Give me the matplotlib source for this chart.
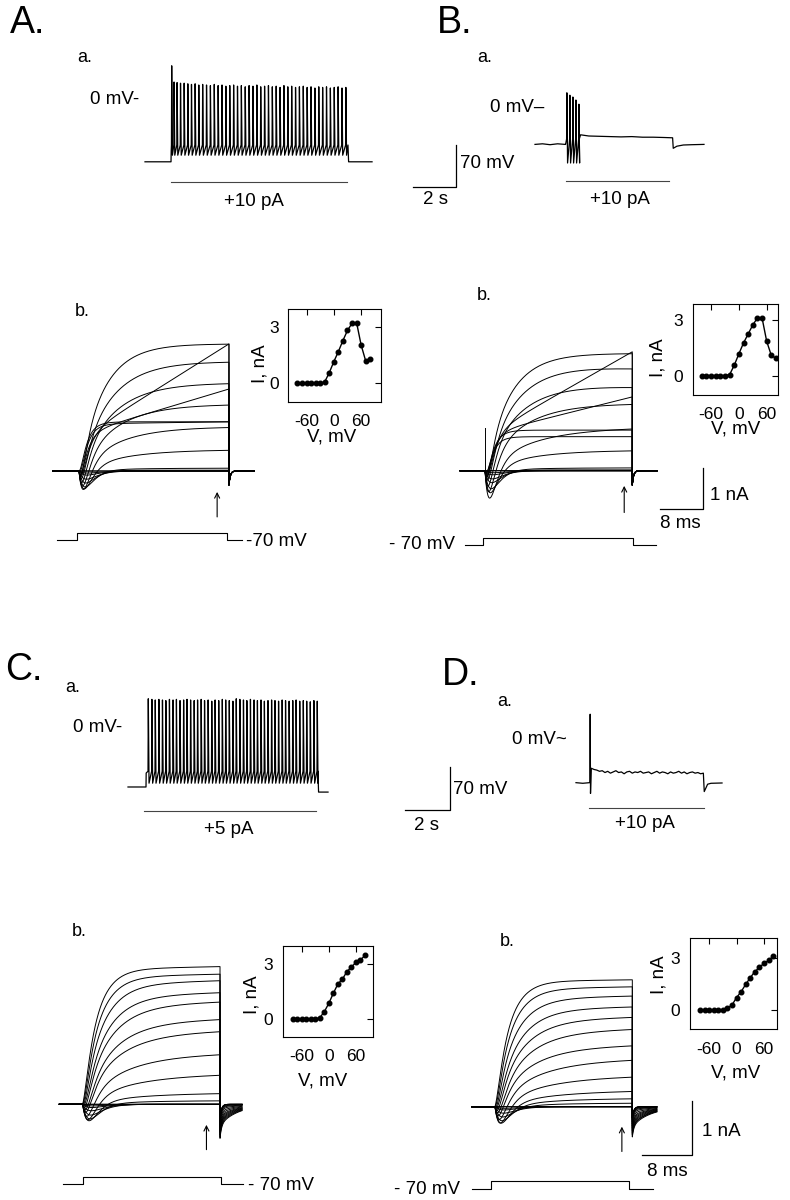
import numpy as np
import matplotlib.pyplot as plt

plt.rcParams['font.family'] = ['Liberation Sans', 'DejaVu Sans']
plt.rcParams['axes.unicode_minus'] = False

W, H = 790, 1200

# ---------------- values ----------------
# I-V insets: step potential (mV) vs current at the arrow (nA)
step_mV = [-80, -70, -60, -50, -40, -30, -20, -10, 0, 10, 20, 30, 40, 50, 60, 70, 80]
iv_A = [0, 0, 0, 0, 0, 0, 0.08, 0.57, 1.16, 1.70, 2.29, 2.83, 3.21, 3.25, 2.05, 1.20, 1.29]
iv_B = [0, 0, 0, 0, 0, 0, 0.05, 0.56, 1.18, 1.77, 2.26, 2.75, 3.13, 3.13, 1.86, 1.09, 0.94]
iv_C = [0, 0, 0, 0, 0, 0, 0.07, 0.40, 0.86, 1.41, 1.92, 2.18, 2.60, 2.84, 3.11, 3.24, 3.48]
iv_D = [0, 0, 0, 0, 0, 0, 0.10, 0.29, 0.71, 1.05, 1.47, 1.85, 2.20, 2.43, 2.68, 2.83, 3.06]

# whole-cell current families, one entry per step (nA, ms)
plat_A = [0, 0, 0, 0, 0, 0.02, 0.07, 0.52, 1.08, 1.63, 2.15, 2.67, 3.10, 0.80, 0.90, 1.15, 1.20]
tau_A = [2, 2, 2, 2, 2, 3, 8, 8, 7, 6.5, 6, 5.5, 4.5, 1.8, 1.6, 1.5, 1.4]
ramp_A = [0, 0, 0, 0, 0, 0, 0, 0, 0, 0, 0, 0, 0, 2.30, 1.10, 0.05, 0]
dip_A = [0, 0, 0.05, 0.10, 0.20, 0.30, 0.40, 0.50, 0.58, 0.55, 0.50, 0.45, 0.40, 0.35, 0.30, 0.25, 0.20]

plat_B = [0, 0, 0, 0, 0, 0.02, 0.07, 0.50, 1.00, 1.64, 2.17, 2.63, 2.86, 0.85, 0.90, 0.99, 0.83]
tau_B = [2, 2, 2, 2, 2, 3, 8, 8, 8, 6.5, 6, 5.5, 4.5, 1.8, 1.6, 1.5, 1.4]
ramp_B = [0, 0, 0, 0, 0, 0, 0, 0, 0.05, 0, -0.12, -0.13, 0, 2.05, 0.90, 0, 0]
dip_B = [0, 0, 0.05, 0.10, 0.20, 0.30, 0.45, 0.60, 0.78, 0.70, 0.60, 0.50, 0.45, 0.40, 0.35, 0.30, 0.25]

plat_C = [0, 0, 0, 0, 0, 0, 0.07, 0.20, 0.52, 0.88, 1.28, 1.50, 1.82, 2.00, 2.22, 2.36, 2.50]
tau_C = [2, 2, 2, 2, 2, 2, 9, 8, 7, 6, 5, 4.5, 4, 3.5, 3, 2.5, 2.2]
ramp_C = [0, 0, 0, 0, 0, 0, 0, 0.01, 0.04, 0.06, 0.08, 0.08, 0.08, 0.07, 0.07, 0.05, 0.05]
dip_C = [0, 0, 0.03, 0.06, 0.12, 0.20, 0.28, 0.33, 0.35, 0.33, 0.30, 0.28, 0.25, 0.22, 0.20, 0.18, 0.15]
tail_C = [0, 0, 0, 0, 0.01, 0.03, 0.05, 0.08, 0.12, 0.16, 0.20, 0.23, 0.26, 0.29, 0.32, 0.35, 0.38]

plat_D = [0, 0, 0, 0, 0, 0.07, 0.16, 0.28, 0.53, 0.82, 1.07, 1.37, 1.60, 1.80, 2.00, 2.18, 2.32]
tau_D = [2, 2, 2, 2, 2, 9, 9, 8, 7, 6, 5, 4.5, 4, 3.5, 3, 2.5, 2.2]
ramp_D = [0, 0, 0, 0, 0, 0, 0, 0.02, 0.04, 0.06, 0.07, 0.07, 0.06, 0.05, 0.05, 0.04, 0.03]
dip_D = [0, 0, 0.03, 0.06, 0.12, 0.20, 0.28, 0.34, 0.37, 0.34, 0.30, 0.28, 0.25, 0.22, 0.20, 0.18, 0.15]
tail_D = [0, 0, 0, 0, 0.01, 0.03, 0.05, 0.08, 0.12, 0.16, 0.19, 0.22, 0.25, 0.28, 0.31, 0.33, 0.36]

dip_time = [1, 1, 1.6, 1.5, 1.4, 1.3, 1.2, 1.1, 1.0, 0.9, 0.8, 0.8, 0.7, 0.7, 0.6, 0.6, 0.6]
zero4 = [0] * 17

# current-clamp spike trains (s, mV)
spk_A_t = [1.23, 1.34, 1.48, 1.64, 1.81, 1.98, 2.15, 2.32, 2.49, 2.67, 2.85, 3.03, 3.21, 3.39,
           3.57, 3.75, 3.93, 4.11, 4.29, 4.47, 4.65, 4.83, 5.01, 5.19, 5.37, 5.55, 5.73, 5.91,
           6.09, 6.27, 6.45, 6.63, 6.81, 6.99, 7.17, 7.35, 7.53, 7.71, 7.89, 8.07, 8.25, 8.43,
           8.61, 8.79, 8.97, 9.15, 9.33]
spk_A_v = [57, 30, 29, 28, 28, 27, 26, 27, 25, 26, 25, 24, 26, 24, 25, 23, 24, 25, 23, 24, 22, 24,
           23, 25, 22, 23, 24, 22, 23, 21, 24, 22, 23, 21, 22, 23, 21, 22, 20, 22, 21, 22, 20, 21,
           22, 20, 21]
spk_C_t = [0.89, 1.05, 1.20, 1.36, 1.52, 1.67, 1.83, 1.99, 2.14, 2.30, 2.46, 2.61, 2.77, 2.93,
           3.08, 3.24, 3.39, 3.55, 3.71, 3.86, 4.02, 4.18, 4.33, 4.49, 4.65, 4.80, 4.96, 5.12,
           5.27, 5.43, 5.59, 5.74, 5.90, 6.05, 6.21, 6.37, 6.52, 6.68, 6.84, 6.99, 7.15, 7.31,
           7.46, 7.62, 7.78, 7.93, 8.09, 8.25, 8.40]
spk_C_v = [46, 45, 44, 45, 44, 43, 45, 44, 45, 43, 44, 45, 44, 43, 44, 45, 43, 44, 42, 44, 43, 45,
           44, 43, 42, 46, 45, 44, 43, 45, 44, 43, 44, 42, 43, 44, 43, 42, 44, 43, 42, 43, 44, 42,
           43, 42, 41, 43, 42]
spk_B_t = [1.47, 1.61, 1.75, 1.89, 2.03]
spk_B_v = [27, 23, 20, 15, 8]
pre_B_t = [0, 0.35, 0.7, 1.05, 1.40]
pre_B_v = [-59, -58, -59.5, -58, -59]
plat_B_t = [2.12, 2.5, 3.0, 3.5, 4.0, 4.5, 5.0, 5.5, 6.0, 6.40]
plat_B_v = [-43, -45, -45.5, -46, -46.5, -46, -47, -47, -47.5, -48]
post_B_t = [6.43, 6.6, 6.9, 7.3, 7.86]
post_B_v = [-65.5, -62, -60, -59.5, -59]
pre_D_t = [0, 0.3, 0.6, 0.62, 0.63, 0.645]
pre_D_v = [-69.5, -70.5, -69.5, -69, 42, -87]
plat_D_v = [-46, -48, -49, -51, -50, -53, -51, -54, -52, -50, -53, -52, -55, -52, -51, -54,
            -52, -53, -51, -54, -53, -52, -55, -53, -51, -54, -52, -53, -55, -52, -54, -53,
            -51, -54, -52, -55, -53, -52, -54, -53, -55, -54]
post_D_t = [5.70, 5.85, 6.0, 6.49]
post_D_v = [-84, -72, -70.5, -70]

# voltage-step command (normalised), times in ms
cmd_level = [0, 0, 1, 1, 0, 0]
cmd_A_t = [-4.1, -0.37, -0.37, 27.5, 27.5, 30.3]
cmd_B_t = [-3.7, -0.3, -0.3, 27.6, 27.6, 31.9]
cmd_C_t = [-3.1, 0, 0, 22.1, 22.1, 25.7]
cmd_D_t = [-3.73, -0.69, -0.69, 21.5, 21.5, 25.3]

fig = plt.figure(figsize=(W / 100, H / 100), dpi=100)
fig.patch.set_facecolor('white')


def px_axes(box, x0px, y0px, sx, sy):
    l, t, r, b = box
    ax = fig.add_axes([l / W, 1 - b / H, (r - l) / W, (b - t) / H])
    ax.set_xlim((l - x0px) / sx, (r - x0px) / sx)
    ax.set_ylim((y0px - b) / sy, (y0px - t) / sy)
    ax.axis('off')
    return ax


def ftext(x, y, s, size=13.5, ha='left', va='center', **kw):
    fig.text(x / W, 1 - y / H, s, fontsize=size, ha=ha, va=va, **kw)


def spike_trace(rest, t_on, on_v, times, peaks, thr, trough, t_off, after_v, t_end):
    t = [0, t_on, t_on + 0.008]
    v = [rest, rest, on_v]
    for ts, pk in zip(times, peaks):
        t += [ts, ts + 0.012, ts + 0.045]
        v += [thr, pk, trough]
    t += [t_off, t_off + 0.03, t_end]
    v += [thr, after_v, after_v]
    return t, v


def current_family(ax, pre, dur, post, plat, tau, ramp, dip, tail, cap, tau_tail):
    for k in range(len(plat)):
        t_in = np.linspace(0, dur, 400)
        i_in = (plat[k] * (1 - np.exp(-t_in / tau[k])) + ramp[k] * t_in / dur
                - dip[k] * (t_in / dip_time[k]) * np.exp(1 - t_in / dip_time[k]))
        t_out = np.linspace(dur, post, 150)
        s = t_out - dur
        i_out = -cap * np.exp(-s / 0.25) - tail[k] * np.exp(-s / tau_tail)
        t = np.concatenate([[pre, 0], t_in, t_out])
        i = np.concatenate([[0, 0], i_in, i_out])
        ax.plot(t, i, color='k', lw=0.7)


def scale_bar(ax, x, y, dx, dy):
    ax.plot([x - dx, x, x], [y, y, y + dy], color='k', lw=0.9, clip_on=False)


def arrow(ax, x, y0, y1):
    ax.annotate('', xy=(x, y1), xytext=(x, y0),
                arrowprops=dict(arrowstyle='->', lw=0.8, color='k',
                                shrinkA=0, shrinkB=0, mutation_scale=9))


def iv_inset(box, xlim, ylim, iv):
    l, t, r, b = box
    ax = fig.add_axes([l / W, 1 - b / H, (r - l) / W, (b - t) / H])
    ax.plot(step_mV, iv, color='k', lw=1.0, marker='o', ms=3.3)
    ax.set_xlim(*xlim)
    ax.set_ylim(*ylim)
    ax.set_xticks([-60, 0, 60])
    ax.set_yticks([0, 3])
    ax.tick_params(axis='x', direction='in', top=True, bottom=False, labelbottom=True,
                   length=4, width=0.8, pad=9, labelsize=12.5)
    ax.tick_params(axis='y', direction='in', left=False, right=True, labelleft=True,
                   length=4, width=0.8, pad=7, labelsize=12.5)
    for sp in ax.spines.values():
        sp.set_linewidth(0.8)
    return ax


# ---------------- A.a ----------------
axAa = px_axes((140, 55, 380, 195), 145, 100, 21.5, 0.6)
t, v = spike_trace(-103, 1.21, -85, spk_A_t, spk_A_v, -75, -92, 9.44, -103, 10.56)
axAa.plot(t, v, color='k', lw=0.9)
axAa.plot([1.21, 9.40], [-136.7, -136.7], color='#444444', lw=0.8)

# ---------------- B.a ----------------
axBa = px_axes((405, 80, 715, 195), 535, 109, 21.5, 0.6)
t, v = spike_trace(-59, 1.42, -58, spk_B_t, spk_B_v, -50, -90, 2.06, -45, 2.10)
axBa.plot(pre_B_t + t[1:-2] + plat_B_t + post_B_t,
          pre_B_v + v[1:-2] + plat_B_v + post_B_v, color='k', lw=0.9)
axBa.plot([1.44, 6.23], [-120, -120], color='#444444', lw=0.8)
scale_bar(axBa, -3.67, -130, 2, 70)

# ---------------- C.a ----------------
axCa = px_axes((120, 690, 335, 820), 128, 727, 22.5, 0.614)
t, v = spike_trace(-97.7, 0.80, -75, spk_C_t, spk_C_v, -72, -91.5, 8.44, -106, 8.89)
axCa.plot(t, v, color='k', lw=0.9)
axCa.plot([0.71, 8.36], [-136.8, -136.8], color='#444444', lw=0.8)

# ---------------- D.a ----------------
axDa = px_axes((400, 705, 730, 815), 576, 740, 22.5, 0.614)
plat_D_t = list(np.linspace(0.68, 5.66, len(plat_D_v)))
axDa.plot(pre_D_t + plat_D_t + post_D_t, pre_D_v + plat_D_v + post_D_v, color='k', lw=0.9)
axDa.plot([0.58, 5.69], [-110.7, -110.7], color='#444444', lw=0.8)
scale_bar(axDa, -5.6, -114, 2, 70)

# ---------------- A.b ----------------
axAb = px_axes((45, 330, 262, 525), 79, 471, 5.375, 41)
current_family(axAb, -4.84, 27.9, 32.6, plat_A, tau_A, ramp_A, dip_A, zero4, 0.34, 1.0)
arrow(axAb, 25.7, -1.12, -0.51)
axAc = px_axes((45, 525, 262, 550), 79, 540, 5.375, 7)
axAc.plot(cmd_A_t, cmd_level, color='k', lw=0.8)

# ---------------- B.b ----------------
axBb = px_axes((455, 330, 710, 515), 485, 470.7, 5.375, 41)
current_family(axBb, -4.65, 27.4, 32.06, plat_B, tau_B, ramp_B, dip_B, zero4, 0.35, 1.0)
axBb.plot([0, 0], [0, 1.03], color='k', lw=0.7)
arrow(axBb, 25.9, -1.02, -0.37)
scale_bar(axBb, 40.5, -0.94, 8, 1)
axBc = px_axes((455, 530, 710, 555), 485, 545, 5.375, 6.7)
axBc.plot(cmd_B_t, cmd_level, color='k', lw=0.8)

# ---------------- C.b ----------------
axCb = px_axes((55, 950, 250, 1160), 82.7, 1104.3, 6.25, 54)
current_family(axCb, -3.74, 21.97, 25.5, plat_C, tau_C, ramp_C, dip_C, tail_C, 0.25, 3.0)
arrow(axCb, 19.8, -0.84, -0.38)
axCc = px_axes((55, 1165, 250, 1195), 82.7, 1184.3, 6.25, 7.6)
axCc.plot(cmd_C_t, cmd_level, color='k', lw=0.8)

# ---------------- D.b ----------------
axDb = px_axes((465, 950, 700, 1160), 495, 1106.7, 6.25, 54)
current_family(axDb, -3.73, 21.97, 25.9, plat_D, tau_D, ramp_D, dip_D, tail_D, 0.2, 3.0)
arrow(axDb, 20.3, -0.83, -0.37)
scale_bar(axDb, 31.5, -0.894, 8, 1)
axDc = px_axes((465, 1170, 700, 1198), 495, 1189.3, 6.25, 8.6)
axDc.plot(cmd_D_t, cmd_level, color='k', lw=0.8)

# ---------------- I-V insets ----------------
iv_inset((288.3, 309.3, 380.7, 401.7), (-100, 103), (-0.98, 3.96), iv_A)
iv_inset((692.5, 303.8, 778.3, 394.5), (-100, 85), (-1.03, 3.9), iv_B)
iv_inset((282.7, 946, 372.7, 1036.7), (-102, 97), (-0.97, 4.0), iv_C)
iv_inset((690, 938.3, 777.3, 1029), (-102, 89), (-1.09, 4.1), iv_D)

for x, y in [(260, 364), (658, 358), (252, 995), (659, 975)]:
    ftext(x, y, 'I, nA', size=13.5, ha='center', rotation=90)
for x, y in [(332, 437), (736, 429), (323, 1081), (736, 1073)]:
    ftext(x, y, 'V, mV', size=13.5, ha='center')

# ---------------- text ----------------
for x, y, s in [(10, 33, 'A.'), (437, 33, 'B.'), (5, 680, 'C.'), (442, 685, 'D.')]:
    ftext(x, y, s, size=27, va='baseline')
for x, y, s in [(77, 57, 'a.'), (477, 58, 'a.'), (65, 688, 'a.'), (497, 702, 'a.'),
                (75, 312, 'b.'), (477, 296, 'b.'), (72, 932, 'b.'), (500, 942, 'b.')]:
    ftext(x, y, s, size=13)

ftext(90, 99, '0 mV-')
ftext(490, 108, '0 mV\u2013')
ftext(73, 727, '0 mV-')
ftext(512, 740, '0 mV~')

ftext(254, 201, '+10 pA', ha='center')
ftext(620, 200, '+10 pA', ha='center')
ftext(229, 829, '+5 pA', ha='center')
ftext(645, 824, '+10 pA', ha='center')

ftext(460, 163, '70 mV')
ftext(435, 200, '2 s', ha='center')
ftext(453, 790, '70 mV')
ftext(427, 825, '2 s', ha='center')

ftext(246, 541, '-70 mV')
ftext(455, 545, '- 70 mV', ha='right')
ftext(248, 1185, '- 70 mV')
ftext(460, 1189, '- 70 mV', ha='right')

ftext(710, 496, '1 nA')
ftext(660, 524, '8 ms')
ftext(702, 1131, '1 nA')
ftext(647, 1171, '8 ms')

fig.savefig('out.png', dpi=100, facecolor='white')
